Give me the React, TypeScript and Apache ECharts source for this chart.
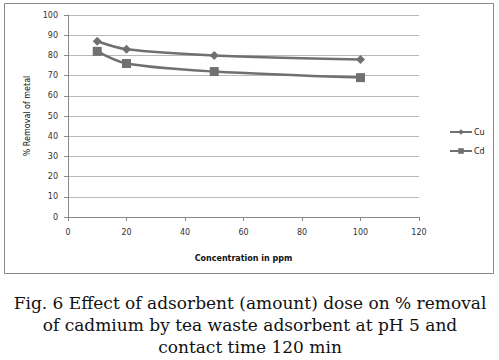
import React, { useEffect, useRef } from "react";
import * as echarts from "echarts";

const concentration = [10, 20, 50, 100];
const cuValues = [87, 83, 80, 78];
const cdValues = [82, 76, 72, 69];
const captionLines = [
  "Fig. 6 Effect of adsorbent (amount) dose on % removal",
  "of cadmium by tea waste adsorbent at pH 5 and",
  "contact time 120 min",
];

const lineColor = "#707070";

export default function App() {
  const ref = useRef<HTMLDivElement>(null);
  useEffect(() => {
    if (!ref.current) return;
    const chart = echarts.init(ref.current, null, { renderer: "svg" });
    const axisFont = { fontFamily: "DejaVu Sans", fontSize: 8, color: "#333" };
    chart.setOption({
      animation: false,
      backgroundColor: "#fff",
      grid: { left: 68, right: 80, top: 15, bottom: 143 },
      legend: {
        orient: "vertical",
        left: 444,
        top: 123,
        itemWidth: 22,
        itemHeight: 7,
        itemGap: 11,
        textStyle: { fontFamily: "DejaVu Sans", fontSize: 8, color: "#222", padding: [0, 0, 0, -3] },
        data: ["Cu", "Cd"],
      },
      xAxis: {
        type: "value",
        min: 0,
        max: 120,
        interval: 20,
        name: "Concentration in ppm",
        nameLocation: "middle",
        nameGap: 37,
        nameTextStyle: { fontFamily: "DejaVu Sans", fontSize: 8, fontWeight: "bold", color: "#111" },
        axisLine: { show: true, lineStyle: { color: "#888" } },
        axisTick: { show: true, length: 4, lineStyle: { color: "#888" } },
        axisLabel: { ...axisFont, margin: 11 },
        splitLine: { show: false },
      },
      yAxis: {
        type: "value",
        min: 0,
        max: 100,
        interval: 10,
        name: "% Removal of metal",
        nameLocation: "middle",
        nameGap: 37,
        nameTextStyle: { fontFamily: "DejaVu Sans", fontSize: 8, color: "#111" },
        axisLine: { show: true, lineStyle: { color: "#888" } },
        axisTick: { show: true, length: 4, lineStyle: { color: "#888" } },
        axisLabel: { ...axisFont, margin: 10 },
        splitLine: { show: true, lineStyle: { color: "#b8b8b8" } },
      },
      series: [
        {
          name: "Cu",
          type: "line",
          smooth: 0.3,
          data: concentration.map((c, i) => [c, cuValues[i]]),
          symbol: "diamond",
          symbolSize: 9,
          itemStyle: { color: lineColor },
          lineStyle: { color: lineColor, width: 2.5 },
        },
        {
          name: "Cd",
          type: "line",
          smooth: 0.3,
          data: concentration.map((c, i) => [c, cdValues[i]]),
          symbol: "rect",
          symbolSize: 9,
          itemStyle: { color: lineColor },
          lineStyle: { color: lineColor, width: 2.5 },
        },
      ],
      graphic: [
        {
          type: "rect",
          shape: { x: 4.5, y: 3.5, width: 489, height: 270 },
          style: { fill: "none", stroke: "#888", lineWidth: 1 },
          silent: true,
        },
        ...captionLines.map((t, i) => ({
          type: "text",
          x: 250,
          y: 303 + i * 22,
          style: {
            text: t,
            fontFamily: "DejaVu Serif",
            fontSize: 17,
            fill: "#111",
            align: "center",
            verticalAlign: "middle",
          },
        })),
      ],
    });
    return () => chart.dispose();
  }, []);
  return (
    <div
      ref={ref}
      style={{ position: "fixed", left: 0, top: 0, width: 499, height: 360 }}
    />
  );
}
